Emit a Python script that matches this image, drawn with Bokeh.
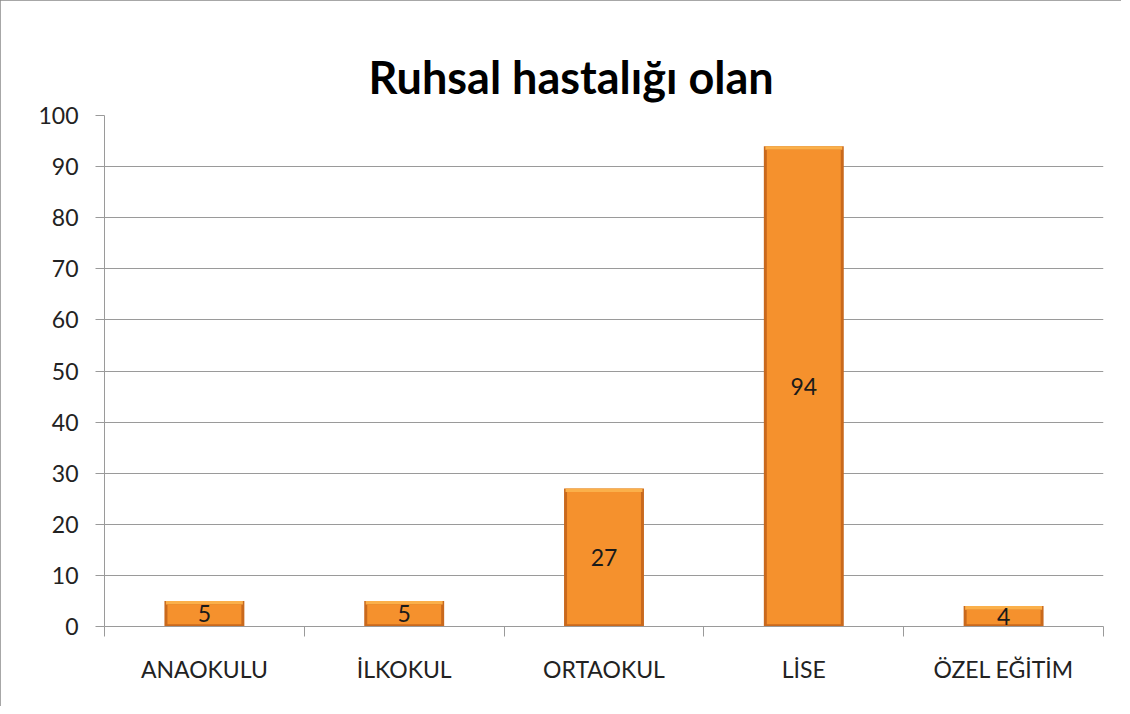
from bokeh.plotting import figure
from bokeh.models import ColumnDataSource, FixedTicker, Title, Range1d
from bokeh.core.properties import value
from bokeh.embed import file_html
from bokeh.resources import INLINE

categories = ["ANAOKULU", "İLKOKUL", "ORTAOKUL", "LİSE", "ÖZEL EĞİTİM"]
counts = [5, 5, 27, 94, 4]
y_ticks = [0, 10, 20, 30, 40, 50, 60, 70, 80, 90, 100]
title_text = "Ruhsal hastalığı olan"

FONT = "Lato"
BEVEL = 0.7  # data units, purely visual

xs = [i + 0.5 for i in range(len(categories))]
src = ColumnDataSource(dict(
    x=xs,
    top=counts,
    face_top=[c - BEVEL for c in counts],
    mid=[c / 2 for c in counts],
    label=[str(c) for c in counts],
))

p = figure(width=1121, height=706, output_backend="svg", toolbar_location=None,
           x_range=Range1d(0, len(categories)), y_range=Range1d(0, 100),
           min_border_left=104, min_border_right=18, min_border_top=115, min_border_bottom=80)
p.styles = {"outline": "2px solid #8a8a8a", "outline-offset": "-2px"}

t = Title(text=title_text, align="left", text_font=FONT, text_font_size="45px",
          text_font_style="bold", text_color="#000000", standoff=24, offset=264)
p.add_layout(t, "above")

p.outline_line_color = None
p.background_fill_color = "white"
p.border_fill_color = "white"

# bars: darker shell, light top bevel, orange face
p.vbar(x="x", top="top", bottom=0, width=0.4, source=src,
       fill_color="#C9691D", line_color=None)
p.vbar(x="x", top="top", bottom="face_top", width=0.385, source=src,
       fill_color="#FBB04A", line_color=None)
p.vbar(x="x", top="face_top", bottom=0.45, width=0.37, source=src,
       fill_color="#F5912D", line_color=None)

p.text(x="x", y="mid", text="label", source=src, text_align="center",
       text_baseline="middle", text_font=value(FONT), text_font_size="23px",
       text_color="#1a1a1a")

# y axis
p.yaxis.ticker = FixedTicker(ticks=y_ticks)
p.yaxis.axis_line_color = "#9a9a9a"
p.yaxis.major_tick_line_color = "#9a9a9a"
p.yaxis.major_tick_out = 9
p.yaxis.major_tick_in = 0
p.yaxis.minor_tick_line_color = None
p.yaxis.major_label_text_font = FONT
p.yaxis.major_label_text_font_size = "23px"
p.yaxis.major_label_text_color = "#222222"
p.yaxis.major_label_standoff = 17

# x axis: labels at centres, ticks at boundaries
p.xaxis.ticker = FixedTicker(ticks=xs, minor_ticks=list(range(len(categories) + 1)))
p.xaxis.major_label_overrides = {x: c for x, c in zip(xs, categories)}
p.xaxis.axis_line_color = "#9a9a9a"
p.xaxis.major_tick_line_color = None
p.xaxis.major_tick_out = 0
p.xaxis.minor_tick_line_color = "#9a9a9a"
p.xaxis.minor_tick_out = 10
p.xaxis.minor_tick_in = 0
p.xaxis.major_label_text_font = FONT
p.xaxis.major_label_text_font_size = "23px"
p.xaxis.major_label_text_color = "#222222"
p.xaxis.major_label_standoff = 18

p.xgrid.grid_line_color = None
p.ygrid.ticker = FixedTicker(ticks=y_ticks)
p.ygrid.grid_line_color = "#9a9a9a"
p.ygrid.grid_line_width = 1

open("out.html", "w").write(file_html(p, INLINE))
